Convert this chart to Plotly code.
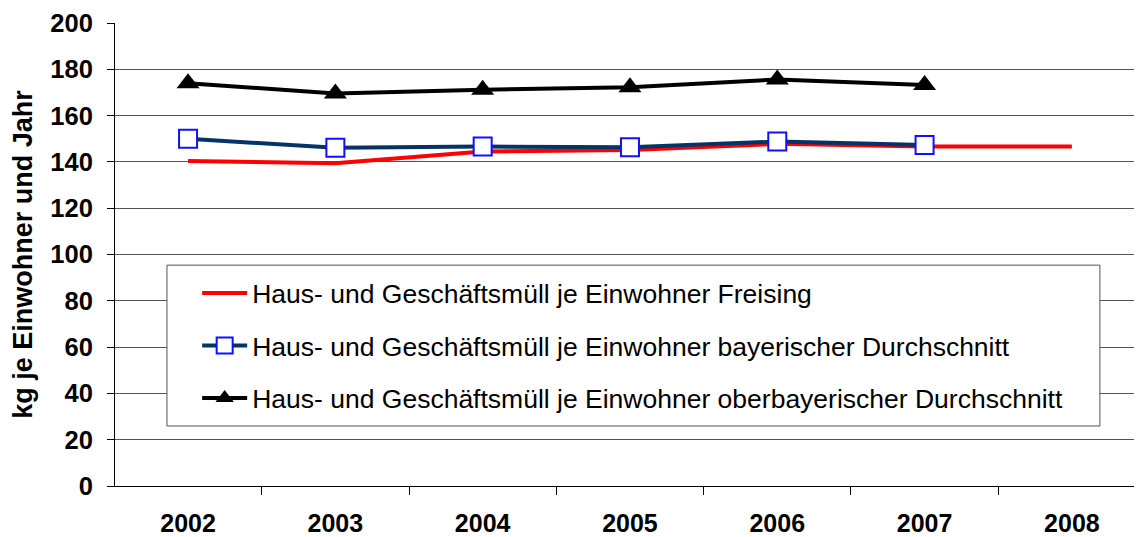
import plotly.graph_objects as go

years = ["2002", "2003", "2004", "2005", "2006", "2007", "2008"]
freising = [140.4, 139.4, 144.5, 145.1, 147.8, 146.7, 146.6]
bayern = [150.0, 146.1, 146.6, 146.3, 148.8, 147.3]
oberbayern = [174.0, 169.6, 171.2, 172.3, 175.6, 173.2]

names = [
    "Haus- und Geschäftsmüll je Einwohner Freising",
    "Haus- und Geschäftsmüll je Einwohner bayerischer Durchschnitt",
    "Haus- und Geschäftsmüll je Einwohner oberbayerischer Durchschnitt",
]

FONT = "Liberation Sans, Arial, sans-serif"

fig = go.Figure()
fig.add_trace(go.Scatter(
    x=years, y=freising, name=names[0], mode="lines",
    line=dict(color="#ff0000", width=4), legendgroup="a"))
fig.add_trace(go.Scatter(
    x=years[:len(bayern)], y=bayern, name=names[1], mode="lines+markers",
    line=dict(color="#053366", width=4),
    marker=dict(symbol="square", size=18, color="white",
                line=dict(color="#1010ff", width=2)), legendgroup="b"))
fig.add_trace(go.Scatter(
    x=years[:len(oberbayern)], y=oberbayern, name=names[2], mode="lines+markers",
    line=dict(color="black", width=4),
    marker=dict(symbol="triangle-up", size=20, color="black"), legendgroup="c"))

fig.update_layout(
    width=1134, height=529,
    margin=dict(l=107, r=0, t=15, b=51),
    paper_bgcolor="white", plot_bgcolor="white",
    font=dict(family=FONT, color="black"),
    showlegend=True,
    legend=dict(
        x=0.080, y=0.468, xanchor="left", yanchor="top",
        bgcolor="rgba(0,0,0,0)", borderwidth=0,
        font=dict(size=26.5, family=FONT),
        traceorder="grouped", tracegroupgap=15, itemwidth=45,
    ),
    shapes=[dict(type="rect", xref="paper", yref="paper",
                 x0=0.0506, x1=0.959, y0=0.1296, y1=0.477,
                 line=dict(color="#555555", width=1), fillcolor="white",
                 layer="above")],
    xaxis=dict(
        type="category", range=[-0.496, 6.476],
        showline=True, linecolor="black", linewidth=1,
        ticks="outside", tickson="boundaries", ticklen=8, tickcolor="black",
        showgrid=False, ticklabelstandoff=15,
        tickfont=dict(size=25, family=FONT, weight="bold"),
    ),
    yaxis=dict(
        range=[0, 200], dtick=20, tick0=0,
        showline=True, linecolor="black", linewidth=1,
        ticks="outside", ticklen=7, tickcolor="black",
        showgrid=True, gridcolor="#555555", gridwidth=1,
        zeroline=False, ticklabelstandoff=9,
        tickfont=dict(size=25.5, family=FONT, weight="bold"),
        title=dict(text="kg je Einwohner und Jahr", standoff=10,
                   font=dict(size=27, family=FONT, weight="bold")),
    ),
)

fig.write_html("out.html")
